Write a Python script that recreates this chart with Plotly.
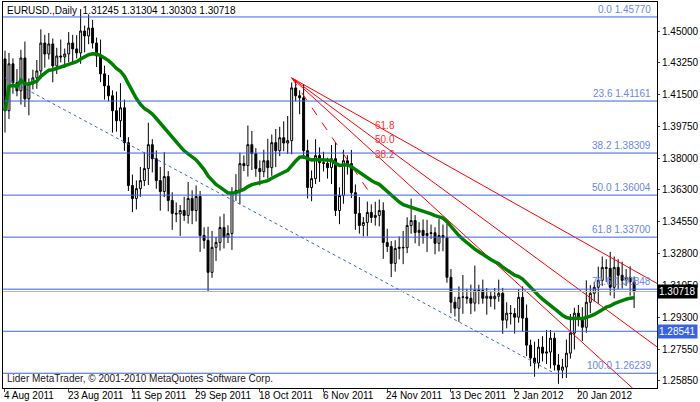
import numpy as np
import pandas as pd
import plotly.graph_objects as go

# daily EURUSD closes (bar index 0 = 4 Aug 2011)
closes = [
    1.4063, 1.4320, 1.4216, 1.4172, 1.4352, 1.4128, 1.4210, 1.4243, 1.4281, 1.4434, 1.4374, 1.4429, 1.4309, 1.4363, 1.4358, 1.4374,
    1.4434, 1.4402, 1.4380, 1.4500, 1.4473, 1.4516, 1.4434, 1.4363, 1.4265, 1.4199, 1.4145, 1.4063, 1.4008, 1.4079, 1.3888, 1.3653,
    1.3582, 1.3636, 1.3680, 1.3746, 1.3877, 1.3800, 1.3680, 1.3620, 1.3702, 1.3571, 1.3500, 1.3497, 1.3516, 1.3489, 1.3582, 1.3516,
    1.3593, 1.3379, 1.3352, 1.3177, 1.3314, 1.3341, 1.3423, 1.3368, 1.3390, 1.3614, 1.3625, 1.3773, 1.3762, 1.3877, 1.3828, 1.3746,
    1.3729, 1.3789, 1.3751, 1.3888, 1.3844, 1.3915, 1.3886, 1.3899, 1.4188, 1.4145, 1.4134, 1.3844, 1.3642, 1.3691, 1.3817, 1.3778,
    1.3775, 1.3751, 1.3800, 1.3516, 1.3598, 1.3789, 1.3773, 1.3614, 1.3500, 1.3434, 1.3450, 1.3505, 1.3478, 1.3489, 1.3516, 1.3341,
    1.3319, 1.3226, 1.3308, 1.3314, 1.3312, 1.3434, 1.3461, 1.3396, 1.3407, 1.3379, 1.3390, 1.3394, 1.3336, 1.3379, 1.3368, 1.3150,
    1.3013, 1.2980, 1.3040, 1.3042, 1.3035, 1.3008, 1.3079, 1.3077, 1.3035, 1.3046, 1.3033, 1.3046, 1.3062, 1.2915, 1.2953, 1.2951,
    1.2931, 1.3040, 1.2926, 1.2778, 1.2707, 1.2680, 1.2767, 1.2734, 1.2740, 1.2816, 1.2669, 1.2641, 1.2658, 1.2734, 1.2844, 1.2953,
    1.2926, 1.2876, 1.3013, 1.3062, 1.3095, 1.3133, 1.3204, 1.3199, 1.3095, 1.3204, 1.3161, 1.3133, 1.3150, 1.3124, 1.30718,
]
first_open = 1.4347

# wick lengths above/below the body, in units of WICK_UNIT
WICK_UNIT = 0.0015
upper_wicks = [
    3, 4, 2, 5, 3, 6, 2, 3, 4, 5, 3, 4, 2, 3, 6, 2, 4, 3, 5, 8, 2, 5, 3, 2, 6, 3, 4, 2, 7, 9, 3, 2,
    4, 3, 5, 6, 8, 2, 3, 5, 9, 2, 3, 4, 2, 5, 6, 3, 4, 2, 3, 5, 6, 2, 4, 5, 3, 2, 6, 4, 3, 7, 5, 2,
    3, 4, 8, 3, 5, 4, 6, 9, 2, 3, 2, 5, 4, 3, 6, 3, 4, 2, 5, 6, 3, 4, 2, 5, 3, 6, 2, 4, 3, 5, 4, 3,
    5, 2, 3, 4, 6, 3, 8, 2, 3, 4, 5, 3, 2, 6, 4, 5, 3, 2, 4, 8, 3, 5, 9, 2, 4, 3, 2, 3, 5, 2, 4, 3,
    2, 3, 4, 5, 2, 6, 3, 4, 8, 3, 2, 4, 3, 5, 7, 2, 3, 4, 8, 3, 2, 5, 4, 3, 6, 4, 3, 5, 3, 4, 2,
]
lower_wicks = [
    8, 3, 4, 2, 5, 3, 6, 2, 4, 3, 5, 2, 6, 3, 2, 4, 3, 5, 2, 4, 6, 3, 2, 4, 3, 5, 2, 8, 4, 6, 3, 2,
    5, 4, 3, 2, 6, 5, 3, 7, 2, 4, 6, 3, 8, 2, 3, 5, 4, 6, 3, 7, 2, 5, 3, 4, 2, 6, 3, 5, 2, 4, 6, 3,
    5, 2, 4, 3, 6, 2, 3, 4, 5, 2, 6, 3, 4, 5, 2, 7, 3, 4, 6, 2, 5, 3, 4, 2, 6, 3, 4, 5, 2, 3, 4, 6,
    2, 5, 3, 4, 6, 2, 3, 4, 5, 3, 6, 2, 4, 3, 5, 2, 4, 3, 5, 6, 2, 4, 3, 5, 2, 6, 3, 4, 2, 5, 3, 4,
    6, 2, 5, 4, 3, 5, 2, 3, 4, 6, 2, 5, 3, 4, 2, 6, 3, 5, 2, 4, 3, 6, 2, 5, 3, 4, 5, 3, 2, 5, 6,
]

date_labels = ["4 Aug 2011", "23 Aug 2011", "11 Sep 2011", "29 Sep 2011", "18 Oct 2011",
               "6 Nov 2011", "24 Nov 2011", "13 Dec 2011", "2 Jan 2012", "20 Jan 2012"]
date_bars = [0, 16, 32, 48, 64, 80, 96, 112, 128, 144]

price_ticks = [1.25850, 1.27550, 1.29300, 1.31050, 1.32800, 1.34550,
               1.36300, 1.38000, 1.39750, 1.41500, 1.43250, 1.45000]

fib_levels = ["0.0", "23.6", "38.2", "50.0", "61.8", "78.6", "100.0"]
fib_prices = [1.45770, 1.41161, 1.38309, 1.36004, 1.33700, 1.30848, 1.26239]

# trend line (blue dotted) and fan base line (red dashed)
trend_bars = [0, 138]
trend_prices = [1.4243, 1.2624]
fan_bars = [72, 92]
fan_prices = [1.4243, 1.3600]
fan_ratios = [0.382, 0.5, 0.618]
fan_names = ["61.8", "50.0", "38.2"]

last_price = 1.30718
line_price = 1.28541

n = len(closes)
bars = np.arange(n)
opens = [first_open] + closes[:-1]
highs = [max(o, c) + u * WICK_UNIT for o, c, u in zip(opens, closes, upper_wicks)]
lows = [min(o, c) - d * WICK_UNIT for o, c, d in zip(opens, closes, lower_wicks)]
ma = pd.Series(closes).ewm(span=32).mean()

X_MAX = 163.75
Y_MIN, Y_MAX = 1.2543, 1.4659
FIB_BLUE = "#3a62dc"
FONT = "Liberation Sans"
FS = 10

fig = go.Figure()

for p in fib_prices + [line_price]:
    fig.add_shape(type="line", x0=-0.5, x1=X_MAX, y0=p, y1=p,
                  line={"color": FIB_BLUE, "width": 1})
fig.add_shape(type="line", x0=-0.5, x1=X_MAX, y0=last_price, y1=last_price,
              line={"color": "#b4b4b4", "width": 1})

fig.add_trace(go.Scatter(x=trend_bars, y=trend_prices, mode="lines",
                         line={"color": FIB_BLUE, "width": 1, "dash": "dot"}))

slope = (fan_prices[1] - fan_prices[0]) / (fan_bars[1] - fan_bars[0])
fig.add_trace(go.Scatter(x=fan_bars, y=fan_prices, mode="lines",
                         line={"color": "red", "width": 1, "dash": "dash"}))
for r in fan_ratios:
    fig.add_trace(go.Scatter(
        x=[fan_bars[0], X_MAX],
        y=[fan_prices[0], fan_prices[0] + slope * r * (X_MAX - fan_bars[0])],
        mode="lines", line={"color": "red", "width": 1}))

fig.add_trace(go.Candlestick(
    x=bars, open=opens, high=highs, low=lows, close=closes,
    increasing={"line": {"color": "black", "width": 1}, "fillcolor": "white"},
    decreasing={"line": {"color": "black", "width": 1}, "fillcolor": "black"},
    whiskerwidth=0,
))

fig.add_trace(go.Scatter(x=bars, y=ma, mode="lines",
                         line={"color": "#008000", "width": 3.5}))

annotations = []
for lvl, p in zip(fib_levels, fib_prices):
    annotations.append(dict(x=X_MAX - 1, y=p, xref="x", yref="y", text=f"{lvl} {p:.5f}",
                            showarrow=False, xanchor="right", yanchor="bottom",
                            font={"color": "#6a86e8", "size": FS, "family": FONT}))
for name, r in zip(fan_names, fan_ratios):
    xa = 92.5
    annotations.append(dict(x=xa, y=fan_prices[0] + slope * r * (xa - fan_bars[0]) - 0.001,
                            xref="x", yref="y", text=name, showarrow=False,
                            xanchor="left", yanchor="middle",
                            font={"color": "#ff3030", "size": FS, "family": FONT}))
for lbl, b in zip(date_labels, date_bars):
    annotations.append(dict(x=b - 0.5, y=-0.002, xref="x", yref="paper", text=lbl,
                            showarrow=False, xanchor="left", yanchor="top", borderpad=0,
                            font={"color": "black", "size": FS, "family": FONT}))
annotations.append(dict(x=0.003, y=0.998, xref="paper", yref="paper",
                        text="EURUSD.,Daily  1.31245 1.31304 1.30303 1.30718",
                        showarrow=False, xanchor="left", yanchor="top",
                        font={"color": "black", "size": FS, "family": FONT}))
annotations.append(dict(x=0.003, y=0.005, xref="paper", yref="paper",
                        text="Lider MetaTrader, © 2001-2010 MetaQuotes Software Corp.",
                        showarrow=False, xanchor="left", yanchor="bottom",
                        font={"color": "#202020", "size": FS, "family": FONT}))
annotations.append(dict(x=1.0, y=last_price, xref="paper", yref="y", text="1.30718",
                        showarrow=False, xanchor="left", bgcolor="black", borderpad=1,
                        font={"color": "white", "size": FS, "family": FONT}))
annotations.append(dict(x=1.0, y=line_price, xref="paper", yref="y", text="1.28541",
                        showarrow=False, xanchor="left", bgcolor=FIB_BLUE, borderpad=1,
                        font={"color": "white", "size": FS, "family": FONT}))

fig.update_layout(
    width=700, height=402,
    margin={"l": 3, "r": 40, "t": 1, "b": 14},
    paper_bgcolor="white", plot_bgcolor="white",
    showlegend=False,
    annotations=annotations,
    xaxis={"range": [-0.5, X_MAX], "rangeslider": {"visible": False},
           "showgrid": False, "zeroline": False, "tickvals": date_bars,
           "ticktext": [""] * len(date_bars), "ticks": "outside", "ticklen": 3,
           "showline": True, "linecolor": "black", "mirror": True},
    yaxis={"range": [Y_MIN, Y_MAX], "side": "right", "showgrid": False,
           "zeroline": False, "tickvals": price_ticks,
           "ticktext": [f"{t:.5f}" for t in price_ticks], "ticks": "outside",
           "ticklen": 2, "showline": True, "linecolor": "black", "mirror": True,
           "tickfont": {"size": FS, "family": FONT, "color": "black"}},
)

fig.write_html("out.html", config={"displayModeBar": False},
               post_script="document.body.style.margin='0';")
